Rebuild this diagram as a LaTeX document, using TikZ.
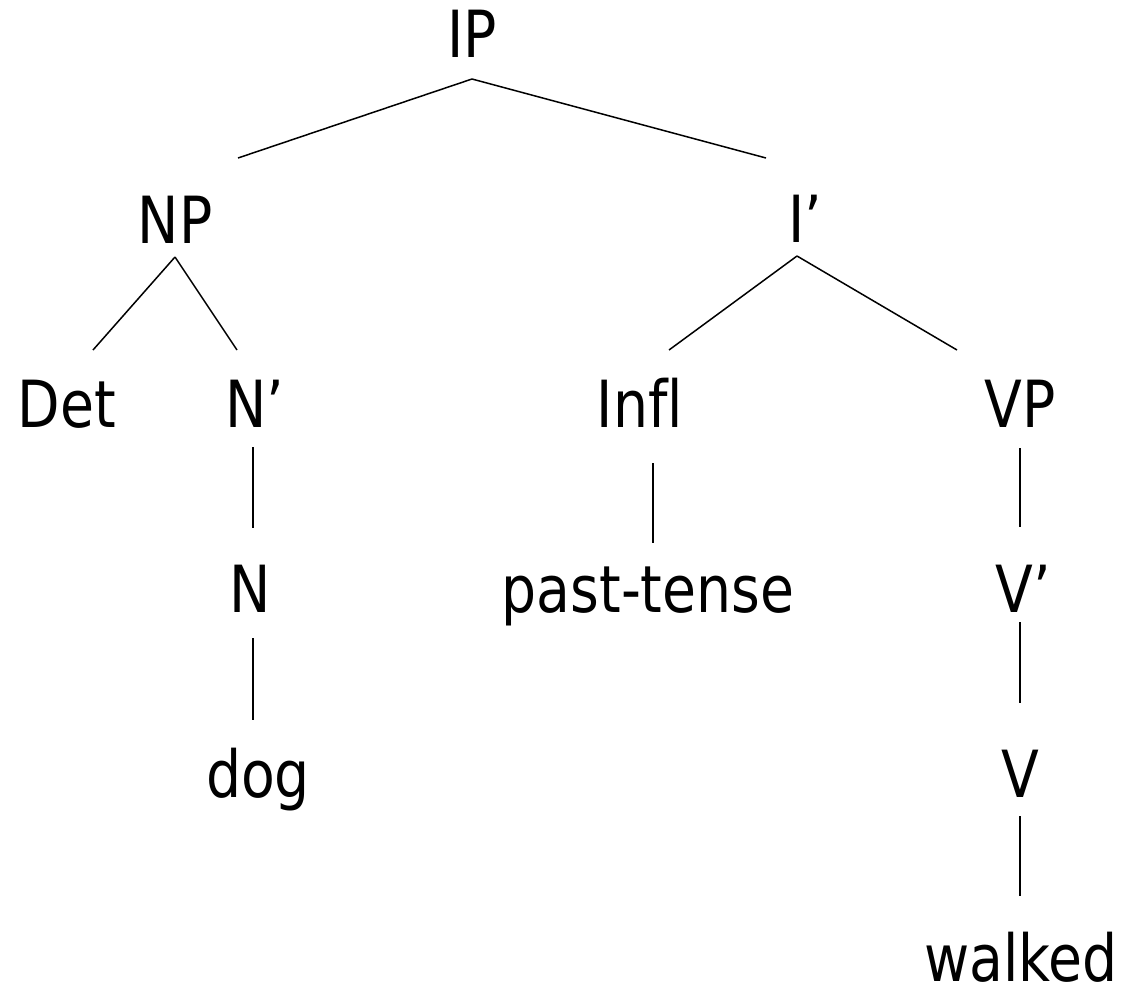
\documentclass[tikz,border=0pt]{standalone}
\usepackage{fontspec}
\setmainfont{DejaVu Sans}[FakeStretch=0.85, Ligatures=NoCommon]
\usepackage{tikz}
\usetikzlibrary{positioning}

\begin{document}
\begin{tikzpicture}[x=1pt, y=-1pt,
  cat/.style={inner sep=0pt, anchor=base, font=\fontsize{65}{72}\selectfont},
  branch/.style={line width=1.5pt, color=black}]
\useasboundingbox (0,0) rectangle (1123,986);
\node (ip) [cat] at (472, 57) {IP};
\node (np) [cat] at (175, 243) {NP};
\node (ibar) [cat] at (805, 242) {I’};
\node (det) [cat] at (67, 427) {Det};
\node (nbar) [cat] at (255, 427) {N’};
\node (infl) [cat] at (640, 427) {Infl};
\node (vp) [cat] at (1020, 427) {VP};
\node (n) [cat] at (250, 612) {N};
\node (past) [cat] at (648, 612) {past-tense};
\node (vbar) [cat] at (1023, 612) {V’};
\node (dog) [cat] at (258, 797) {dog};
\node (v) [cat] at (1020, 797) {V};
\node (walked) [cat] at (1021, 981) {walked};
\draw [branch] ([shift={(0,22)}]ip.base) to ([shift={(63,-85)}]np.base);
\draw [branch] ([shift={(0,22)}]ip.base) to ([shift={(-39,-84)}]ibar.base);
\draw [branch] ([shift={(0,14)}]np.base) to ([shift={(26,-77)}]det.base);
\draw [branch] ([shift={(0,14)}]np.base) to ([shift={(-18,-77)}]nbar.base);
\draw [branch] ([shift={(-8,14)}]ibar.base) to ([shift={(29,-77)}]infl.base);
\draw [branch] ([shift={(-8,14)}]ibar.base) to ([shift={(-63,-77)}]vp.base);
\draw [branch] ([shift={(-2,20)}]nbar.base) to ([shift={(3,-84)}]n.base);
\draw [branch] ([shift={(13,36)}]infl.base) to ([shift={(5,-69)}]past.base);
\draw [branch] ([shift={(0,21)}]vp.base) to ([shift={(-3,-85)}]vbar.base);
\draw [branch] ([shift={(3,26)}]n.base) to ([shift={(-5,-77)}]dog.base);
\draw [branch] ([shift={(-3,10)}]vbar.base) to ([shift={(0,-94)}]v.base);
\draw [branch] ([shift={(0,19)}]v.base) to ([shift={(-1,-85)}]walked.base);
\end{tikzpicture}
\end{document}
